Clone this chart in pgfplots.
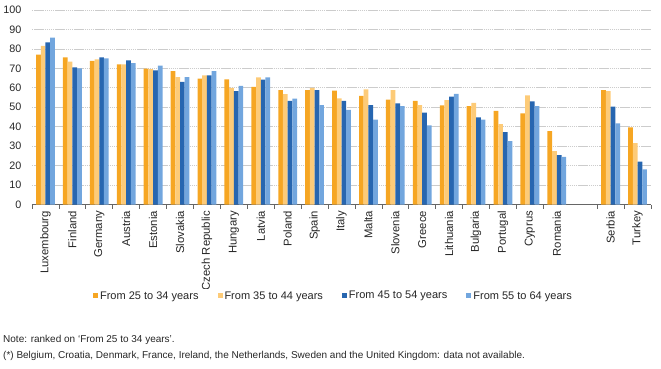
\documentclass[border=0pt]{standalone}
\usepackage{fontspec}
\setmainfont{Liberation Sans}
\usepackage{pgfplots}
\usepackage{pgfplotstable}
\pgfplotsset{compat=1.18}
\definecolor{cA}{HTML}{F6A623}
\definecolor{cB}{HTML}{FDCB78}
\definecolor{cC}{HTML}{2766B0}
\definecolor{cD}{HTML}{72A6DE}
\definecolor{txt}{HTML}{262626}
\pgfplotstableread{
x a b c d
0 77 81.5 83.4 85.8
1 75.6 73.4 70.5 70
2 73.9 74.6 75.6 75.1
3 72 72 74.1 72.7
4 69.8 69.6 69 71.4
5 68.6 65.5 63 65.5
6 64.7 66.4 66.4 68.6
7 64.3 59.9 58.3 61
8 60.5 65.4 64.2 65.4
9 58.8 56.8 53.3 54.4
10 58.8 59.9 58.8 51.1
11 58.5 54.5 53.3 48.7
12 55.9 59.2 51.1 43.6
13 53.9 58.8 52 50.6
14 53.3 51.1 47.3 40.7
15 51 53.7 55.4 56.9
16 50.6 52.3 44.8 43.6
17 48.2 41.3 37.2 32.6
18 46.8 56.1 53 50.6
19 37.7 27.4 25.4 24.5
21 58.8 58.3 50.3 41.7
22 39.6 31.6 22 18
}\data
\newcommand\xlab[1]{\fontsize{11.3}{13}\selectfont #1}
\begin{document}
\begin{tikzpicture}
\useasboundingbox (-32pt,-164.5pt) rectangle (629pt,204.5pt);
\begin{axis}[
  at={(0,0)}, anchor=south west,
  scale only axis, width=619pt, height=194.5pt,
  xmin=-0.5, xmax=22.5, ymin=0, ymax=100,
  ybar=0pt, bar width=4.7pt,
  axis lines*=left,
  y axis line style={draw=none},
  x axis line style={black!60, line width=0.7pt},
  ytick={0,10,...,100},
  ymajorgrids,
  major grid style={black!20, dash pattern=on 1.5pt off 0.6pt, line width=0.6pt},
  major tick length=0pt,
  minor tick length=4pt,
  tick align=outside,
  minor x tick style={black!60, line width=0.7pt},
  ytick style={draw=none},
  /pgf/number format/assume math mode=true,
  xtick={0,1,2,3,4,5,6,7,8,9,10,11,12,13,14,15,16,17,18,19,21,22},
  minor xtick={-0.5,0.5,1.5,2.5,3.5,4.5,5.5,6.5,7.5,8.5,9.5,10.5,11.5,12.5,13.5,14.5,15.5,16.5,17.5,18.5,20.5,21.5,22.5},
  xticklabels={\xlab{Luxembourg},\xlab{Finland},\xlab{Germany},\xlab{Austria},\xlab{Estonia},\xlab{Slovakia},\xlab{Czech Republic},\xlab{Hungary},\xlab{Latvia},\xlab{Poland},\xlab{Spain},\xlab{Italy},\xlab{Malta},\xlab{Slovenia},\xlab{Greece},\xlab{Lithuania},\xlab{Bulgaria},\xlab{Portugal},\xlab{Cyprus},\xlab{Romania},\xlab{Serbia},\xlab{Turkey}},
  xticklabel style={yshift=-3pt, rotate=90, anchor=east, text=txt},
  yticklabel style={xshift=-7pt, font=\fontsize{10.8}{12}\selectfont, text=txt},
  legend columns=4,
  legend style={draw=none, at={(0.487,-0.47)}, anchor=center, font=\fontsize{11}{13}\selectfont, text=txt,
     /tikz/every even column/.append style={column sep=17pt}, cells={anchor=west}, inner sep=0pt},
  lg/.style={legend image code/.code={\fill[##1] (0pt,-2.5pt) rectangle (5pt,2.5pt);}},
]
\addplot[fill=cA, draw=none, lg] table[x=x,y=a]{\data};
\addplot[fill=cB, draw=none, lg] table[x=x,y=b]{\data};
\addplot[fill=cC, draw=none, lg] table[x=x,y=c]{\data};
\addplot[fill=cD, draw=none, lg] table[x=x,y=d]{\data};
\legend{From 25 to 34 years,From 35 to 44 years,From 45 to 54 years,From 55 to 64 years}
\end{axis}
\node[anchor=west, inner sep=0pt, font=\fontsize{10}{12}\selectfont, text=txt] at (-29pt,-135.5pt) {Note: ranked on `From 25 to 34 years'.};
\node[anchor=west, inner sep=0pt, font=\fontsize{10}{12}\selectfont, text=txt] at (-29pt,-151.5pt) {(*) Belgium, Croatia, Denmark, France, Ireland, the Netherlands, Sweden and the United Kingdom: data not available.};
\end{tikzpicture}
\end{document}
